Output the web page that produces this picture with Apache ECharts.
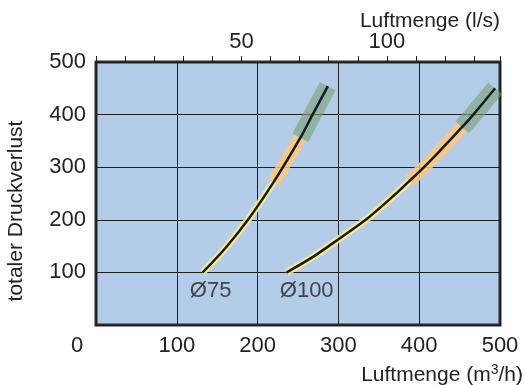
<!DOCTYPE html>
<html>
<head>
<meta charset="utf-8">
<script src="https://cdn.jsdelivr.net/npm/echarts@6/dist/echarts.min.js"></script>
<style>
html,body{margin:0;padding:0;background:#fff;}
#chart{width:525px;height:385px;}
</style>
</head>
<body>
<div id="chart"></div>
<script>
// ---- data ----
const curveNames = ['Ø75', 'Ø100'];
// airflow in m3/h and total pressure loss
const flow75 = [132, 160, 189, 220, 253, 268, 287];
const loss75 = [100, 146, 202, 272, 356, 400, 454];
const flow100 = [236, 270, 300, 337, 370, 388, 400, 420, 453, 467, 494];
const loss100 = [100, 131, 163, 204, 248, 274, 291, 322, 376, 400, 450];
// airflow values where the coloured band changes (yellow -> orange -> green)
const bandBreaks75 = [220, 253];
const bandBreaks100 = [388, 453];
// axis ticks
const xTicksM3h = [0, 100, 200, 300, 400, 500];
const yTicks = [100, 200, 300, 400, 500];
const topLabelsLs = [50, 100];
const m3hPerLs = 3.6;

const FONT = "'Liberation Sans', Arial, Helvetica, sans-serif";
const TXT = '#222';

function pts(fx, fy) { return fx.map((x, i) => [x, fy[i]]); }
function seg(p, lo, hi) { return p.filter(d => d[0] >= lo && d[0] <= hi); }

const p75 = pts(flow75, loss75);
const p100 = pts(flow100, loss100);

const bandColors = ['rgba(255,237,140,0.85)', 'rgba(255,199,124,0.85)', 'rgba(120,160,120,0.6)'];
const bandWidths = [7, 13, 18];
const SMOOTH = 0.3;

function bandSeries(p, breaks) {
  const lims = [-Infinity, breaks[0], breaks[1], Infinity];
  return [0, 1, 2].map(k => ({
    type: 'line', smooth: SMOOTH, showSymbol: false, silent: true, z: 2,
    data: seg(p, lims[k], lims[k + 1]),
    lineStyle: { color: bandColors[k], width: bandWidths[k], cap: 'butt', join: 'round' }
  }));
}
function curveSeries(p) {
  return {
    type: 'line', smooth: SMOOTH, showSymbol: false, silent: true, z: 4,
    data: p, lineStyle: { color: '#1a1a1a', width: 2.5, cap: 'butt' }
  };
}
function labelSeries(p, name, dx) {
  return {
    type: 'scatter', symbolSize: 0, silent: true, z: 5,
    data: [p[0]],
    label: { show: true, position: 'bottom', distance: 8, offset: [dx, 0],
      formatter: name, fontSize: 22, color: TXT, fontFamily: FONT }
  };
}

const option = {
  animation: false,
  textStyle: { fontFamily: FONT },
  grid: { left: 96, right: 25, top: 62, bottom: 60, show: true,
    backgroundColor: '#b3cde9', borderColor: '#2b2b2b', borderWidth: 3 },
  xAxis: [
    { type: 'value', position: 'bottom', min: xTicksM3h[0], max: xTicksM3h[xTicksM3h.length - 1], interval: 100,
      axisLine: { show: false }, axisTick: { show: false },
      splitLine: { show: true, lineStyle: { color: '#1e1e1e', width: 1 } },
      axisLabel: { fontSize: 22, color: TXT, margin: 10, fontFamily: FONT,
        formatter: v => v === 0 ? '{z|0}' : String(v),
        rich: { z: { fontSize: 22, color: TXT, fontFamily: FONT, padding: [0, 38, 0, 0] } } } },
    { type: 'value', position: 'top', min: 0, max: xTicksM3h[xTicksM3h.length - 1] / m3hPerLs, interval: 10,
      axisLine: { show: false },
      axisTick: { show: true, inside: false, length: 6, lineStyle: { color: TXT, width: 1 } },
      splitLine: { show: false },
      axisLabel: { fontSize: 22, color: TXT, margin: 9, fontFamily: FONT,
        formatter: v => topLabelsLs.includes(Math.round(v * 1000) / 1000) ? String(v) : '' } }
  ],
  yAxis: { type: 'value', min: 0, max: yTicks[yTicks.length - 1], interval: 100,
    axisLine: { show: false }, axisTick: { show: false },
    splitLine: { show: true, lineStyle: { color: '#1e1e1e', width: 1 } },
    axisLabel: { fontSize: 22, color: TXT, margin: 10, fontFamily: FONT, showMinLabel: false } },
  series: [
    ...bandSeries(p75, bandBreaks75),
    ...bandSeries(p100, bandBreaks100),
    curveSeries(p75),
    curveSeries(p100),
    labelSeries(p75, curveNames[0], 8),
    labelSeries(p100, curveNames[1], 20)
  ],
  graphic: [
    { type: 'text', x: 16, y: 211, rotation: Math.PI / 2,
      style: { text: 'totaler Druckverlust', fontSize: 21, fill: TXT, fontFamily: FONT,
        align: 'center', verticalAlign: 'middle' } },
    { type: 'text', x: 500, y: 21,
      style: { text: 'Luftmenge (l/s)', fontSize: 21, fill: TXT, fontFamily: FONT,
        align: 'right', verticalAlign: 'middle' } },
    { type: 'text', x: 523, y: 375,
      style: { text: 'Luftmenge (m{s|3}/h)', fontSize: 21, fill: TXT, fontFamily: FONT,
        align: 'right', verticalAlign: 'middle', lineHeight: 24,
        rich: { s: { fontSize: 14, fill: TXT, fontFamily: FONT, verticalAlign: 'top', lineHeight: 24 } } } }
  ]
};

const chart = echarts.init(document.getElementById('chart'), null, { renderer: 'canvas' });
chart.setOption(option);
</script>
</body>
</html>
